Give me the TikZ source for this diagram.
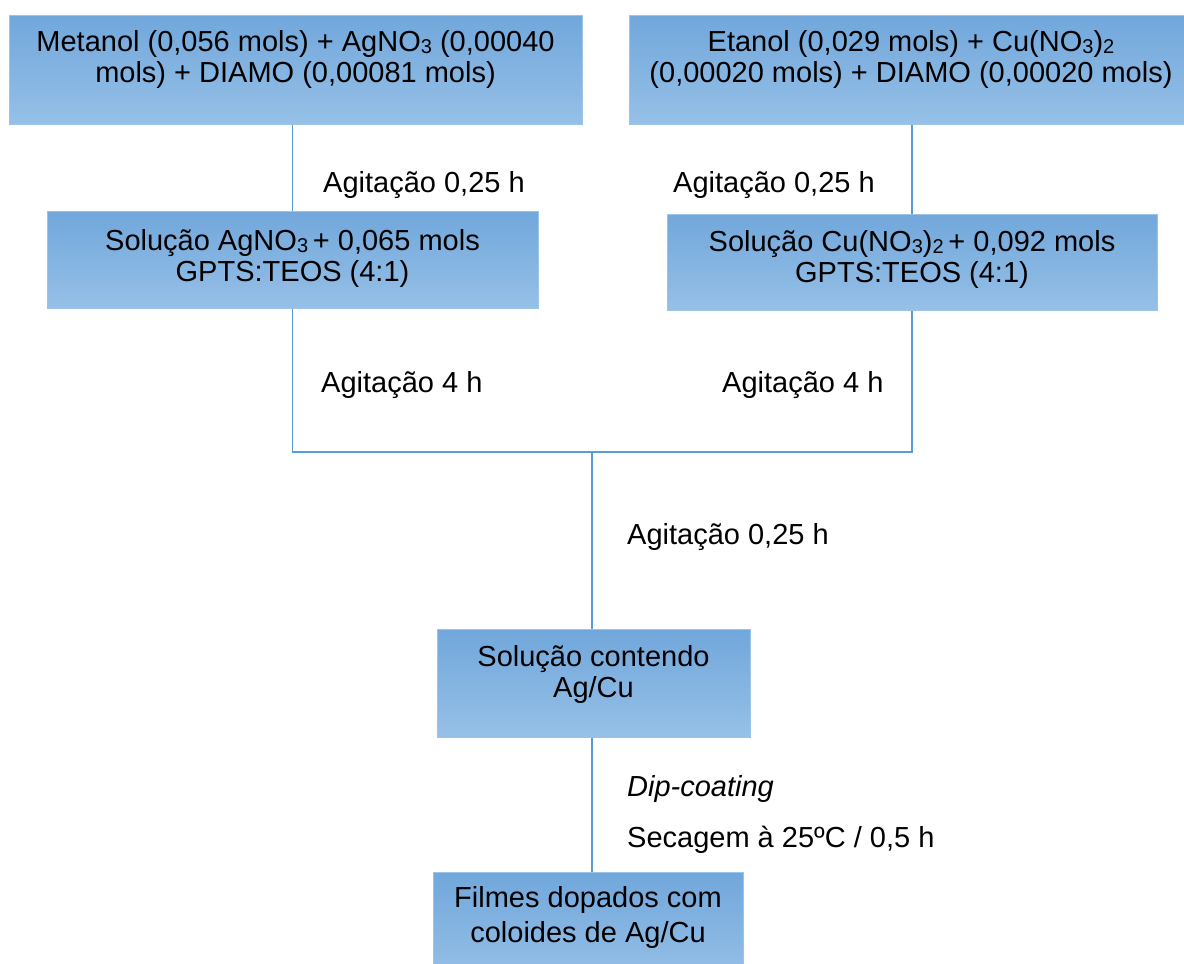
\documentclass[tikz,border=0pt]{standalone}
\usepackage{fontspec}
\setmainfont{Liberation Sans}
\newcommand{\chemsub}[1]{\raisebox{-2pt}{\fontsize{20}{20}\selectfont #1}}
\begin{document}
\begin{tikzpicture}[x=1pt,y=-1pt,
  box/.style={draw=boxedge, line width=1pt, top color=boxtop, bottom color=boxbot, inner sep=0pt},
  boxtxt/.style={align=center, inner sep=0pt, font=\fontsize{29}{31}\selectfont},
  lbl/.style={anchor=west, inner sep=0pt, font=\fontsize{29}{31}\selectfont},
  conn/.style={draw=connc, line width=1.3pt}]
\definecolor{boxtop}{HTML}{71A7DB}
\definecolor{boxbot}{HTML}{96C0E7}
\definecolor{boxedge}{HTML}{9CC3E8}
\definecolor{connc}{HTML}{5B9BD5}
\useasboundingbox (0,0) rectangle (1184,964);
% boxes
\node[box, minimum width=573pt, minimum height=109pt] (b1) at (295.5,69.5) {};
\node[box, minimum width=564pt, minimum height=109pt] (b3) at (911,69.5) {};
\node[box, minimum width=491pt, minimum height=97pt] (b2) at (292.5,259.5) {};
\node[box, minimum width=490pt, minimum height=96pt] (b4) at (912,262) {};
\node[box, minimum width=313pt, minimum height=108pt] (b5) at (593.5,683) {};
\node[box, minimum width=310pt, minimum height=108pt] (b6) at (588,926) {};
% box texts
\node[boxtxt] (t1) at (295.5,59) {Metanol (0,056 mols) + AgNO\chemsub{3} (0,00040\\mols) + DIAMO (0,00081 mols)};
\node[boxtxt] (t3) at (911,59) {Etanol (0,029 mols) + Cu(NO\chemsub{3})\chemsub{2}\\(0,00020 mols) + DIAMO (0,00020 mols)};
\node[boxtxt] (t2) at (292.5,258) {Solução AgNO\chemsub{3}\,+ 0,065 mols\\GPTS:TEOS (4:1)};
\node[boxtxt] (t4) at (912,259.5) {Solução Cu(NO\chemsub{3})\chemsub{2}\,+ 0,092 mols\\GPTS:TEOS (4:1)};
\node[boxtxt] (t5) at (593.5,674) {Solução contendo\\Ag/Cu};
\node[boxtxt, font=\fontsize{29}{35}\selectfont] (t6) at (588,917.5) {Filmes dopados com\\coloides de Ag/Cu};
% connectors
\coordinate (j) at (592,452);
\draw[conn] (b2.north) -- (b2.north |- b1.south);
\draw[conn] (b4.north) -- (b4.north |- b3.south);
\draw[conn] (b2.south) |- (j) -| (b4.south);
\draw[conn] (j) -- (j |- b5.north);
\draw[conn] (b5.south -| j) -- (b6.north -| j);
% labels
\node[lbl] (l1) at (323,185) {Agitação 0,25 h};
\node[lbl] (l2) at (673,185) {Agitação 0,25 h};
\node[lbl] (l3) at (321,385) {Agitação 4 h};
\node[lbl] (l4) at (722,385) {Agitação 4 h};
\node[lbl] (l5) at (627,537) {Agitação 0,25 h};
\node[lbl] (l6) at (627,789) {\itshape Dip-coating};
\node[lbl] (l7) at (627,840) {Secagem à 25ºC / 0,5 h};
\end{tikzpicture}
\end{document}
